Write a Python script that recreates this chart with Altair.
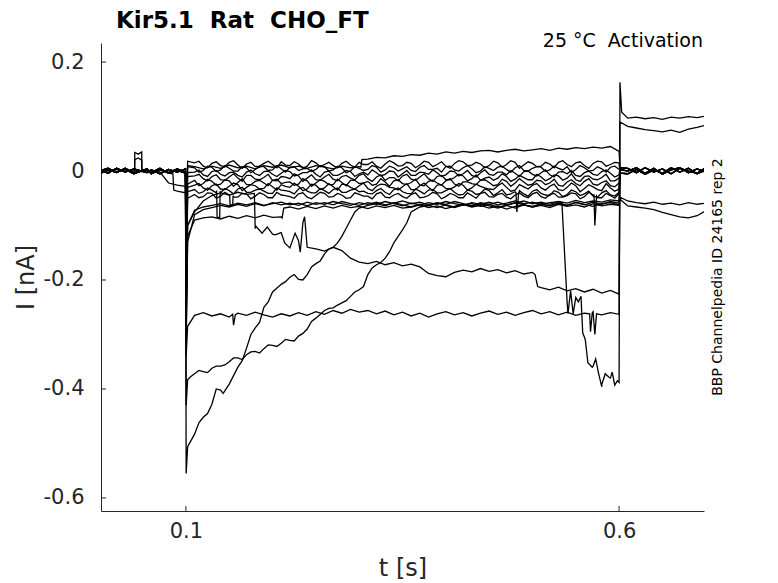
import altair as alt
import pandas as pd

FONT = "DejaVu Sans"
INK = "#262626"

X_TICKS = [0.1, 0.6]
Y_TICKS = [-0.6, -0.4, -0.2, 0, 0.2]

# sample times shared by every sweep
T_PRE = [0.0, 0.01, 0.02, 0.03, 0.04, 0.055, 0.06, 0.07, 0.08, 0.09, 0.0995]
T_ON = [0.1003, 0.102]
T_MAIN = [
    0.11, 0.12, 0.13, 0.14, 0.15, 0.16, 0.17, 0.18, 0.19, 0.20,
    0.21, 0.22, 0.23, 0.24, 0.25, 0.26, 0.27, 0.28, 0.29, 0.30,
    0.31, 0.32, 0.33, 0.34, 0.35, 0.36, 0.37, 0.38, 0.39, 0.40,
    0.41, 0.42, 0.43, 0.44, 0.45, 0.46, 0.47, 0.48, 0.49, 0.50,
    0.51, 0.52, 0.53, 0.54, 0.55, 0.56, 0.57, 0.58, 0.59, 0.60,
]
# extra in-between samples for the sweeps of the dense band near 0 nA
T_MID = [
    0.115, 0.125, 0.135, 0.145, 0.155, 0.165, 0.175, 0.185, 0.195, 0.205,
    0.215, 0.225, 0.235, 0.245, 0.255, 0.265, 0.275, 0.285, 0.295, 0.305,
    0.315, 0.325, 0.335, 0.345, 0.355, 0.365, 0.375, 0.385, 0.395, 0.405,
    0.415, 0.425, 0.435, 0.445, 0.455, 0.465, 0.475, 0.485, 0.495, 0.505,
    0.515, 0.525, 0.535, 0.545, 0.555, 0.565, 0.575, 0.585, 0.595,
]
T_POST = [0.601, 0.61, 0.62, 0.63, 0.64, 0.65, 0.66, 0.67, 0.68, 0.69, 0.70]

# holding current before the step (nA)
PRE_1 = [0.004, -0.004, 0.005, -0.002, 0.004, -0.003, 0.002, -0.005, 0.003, -0.002, 0.004]
PRE_2 = [-0.005, 0.002, -0.003, 0.005, -0.004, 0.003, -0.005, 0.002, -0.003, 0.004, -0.002]
PRE_3 = [0.000, 0.005, -0.002, 0.003, -0.005, 0.004, -0.003, 0.005, -0.004, 0.001, -0.004]
PRE_G1 = [0.001, -0.002, 0.003, -0.001, 0.002, -0.003, 0.002, -0.002, -0.022, -0.026, -0.028]
PRE_G2 = [-0.002, 0.002, -0.001, 0.003, -0.002, 0.001, -0.003, 0.002, -0.004, -0.037, -0.040]

# after the step
POST_Z1 = [0.006, 0.005, -0.003, 0.006, -0.002, 0.004, -0.005, 0.005, 0.000, -0.004, 0.006]
POST_Z2 = [-0.004, -0.005, 0.003, -0.006, 0.002, -0.004, 0.006, -0.002, 0.005, -0.005, 0.002]
POST_Z3 = [0.003, 0.000, 0.006, -0.004, 0.005, -0.006, 0.002, 0.006, -0.003, 0.004, -0.002]
POST_D = [0.163, 0.097, 0.099, 0.096, 0.098, 0.095, 0.099, 0.097, 0.100, 0.098, 0.101]
POST_C = [0.090, 0.082, 0.079, 0.076, 0.074, 0.072, 0.075, 0.071, 0.077, 0.080, 0.084]
POST_G1 = [-0.048, -0.055, -0.058, -0.060, -0.057, -0.061, -0.059, -0.062, -0.058, -0.061, -0.059]
POST_G2 = [-0.052, -0.064, -0.066, -0.068, -0.071, -0.076, -0.080, -0.084, -0.086, -0.082, -0.073]

# sweeps during the step, 0.11 .. 0.60 s
U_MAIN = [
    0.008, 0.004, 0.009, 0.005, 0.011, 0.006, 0.009, 0.004, 0.010, 0.007,
    0.011, 0.006, 0.009, 0.005, 0.010, 0.007, 0.004, 0.009, 0.006, 0.008,
    0.022, 0.025, 0.024, 0.028, 0.027, 0.030, 0.029, 0.033, 0.031, 0.035,
    0.033, 0.036, 0.034, 0.037, 0.038, 0.035, 0.038, 0.040, 0.037, 0.039,
    0.041, 0.038, 0.042, 0.040, 0.043, 0.041, 0.044, 0.042, 0.045, 0.036,
]
N1_MAIN = [
    0.015, 0.009, 0.014, 0.010, 0.016, 0.011, 0.013, 0.008, 0.014, 0.012,
    0.017, 0.010, 0.013, 0.009, 0.015, 0.012, 0.010, 0.014, 0.011, 0.016,
    0.012, 0.009, 0.013, 0.015, 0.010, 0.014, 0.011, 0.016, 0.012, 0.009,
    0.014, 0.017, 0.011, 0.013, 0.010, 0.015, 0.012, 0.016, 0.011, 0.014,
    0.009, 0.013, 0.016, 0.012, 0.015, 0.010, 0.014, 0.017, 0.012, 0.015,
]
N1_MID = [
    0.018, 0.006, 0.017, 0.008, 0.019, 0.005, 0.016, 0.009, 0.018, 0.006,
    0.011, 0.017, 0.005, 0.019, 0.008, 0.016, 0.006, 0.018, 0.007, 0.012,
    0.017, 0.005, 0.019, 0.009, 0.016, 0.006, 0.018, 0.008, 0.017, 0.005,
    0.019, 0.010, 0.016, 0.006, 0.018, 0.007, 0.019, 0.005, 0.017, 0.008,
    0.016, 0.006, 0.019, 0.008, 0.017, 0.005, 0.018, 0.009, 0.016,
]
N2_MAIN = [
    0.006, 0.001, 0.007, 0.002, 0.005, 0.000, 0.006, 0.003, 0.008, 0.002,
    0.004, 0.007, 0.001, 0.005, 0.003, 0.008, 0.002, 0.006, 0.000, 0.005,
    0.003, 0.007, 0.002, 0.006, 0.004, 0.001, 0.007, 0.003, 0.005, 0.008,
    0.002, 0.006, 0.004, 0.000, 0.005, 0.007, 0.003, 0.006, 0.001, 0.005,
    0.007, 0.002, 0.005, 0.008, 0.003, 0.006, 0.001, 0.004, 0.007, 0.003,
]
N2_MID = [
    -0.002, 0.009, -0.001, 0.010, 0.000, 0.008, -0.003, 0.009, 0.001, 0.010,
    -0.002, 0.008, 0.004, -0.001, 0.010, 0.000, 0.009, -0.003, 0.008, 0.001,
    0.010, -0.002, 0.009, 0.000, 0.008, -0.001, 0.010, 0.003, -0.002, 0.009,
    0.000, 0.010, -0.003, 0.008, 0.001, 0.009, -0.002, 0.010, 0.000, 0.008,
    -0.001, 0.009, 0.002, -0.003, 0.010, 0.000, 0.008, -0.002, 0.009,
]
N3_MAIN = [
    -0.002, -0.007, -0.001, -0.006, -0.003, -0.008, -0.002, -0.005, -0.001, -0.006,
    -0.004, -0.001, -0.007, -0.003, -0.006, -0.002, -0.008, -0.004, -0.001, -0.005,
    -0.007, -0.003, -0.006, -0.001, -0.005, -0.008, -0.002, -0.006, -0.003, -0.007,
    -0.001, -0.005, -0.008, -0.003, -0.006, -0.002, -0.007, -0.004, -0.001, -0.006,
    -0.003, -0.007, -0.002, -0.005, -0.008, -0.003, -0.006, -0.001, -0.004, -0.007,
]
N3_MID = [
    0.002, -0.010, 0.001, -0.009, -0.002, -0.011, 0.002, -0.008, 0.000, -0.010,
    0.001, -0.009, -0.003, 0.002, -0.011, 0.000, -0.008, 0.001, -0.010, -0.002,
    0.002, -0.009, 0.000, -0.011, 0.001, -0.008, -0.003, 0.002, -0.010, 0.000,
    -0.009, 0.001, -0.011, 0.002, -0.008, -0.002, 0.001, -0.010, 0.000, -0.009,
    0.002, -0.011, -0.001, 0.001, -0.010, 0.000, -0.008, 0.002, -0.011,
]
N4_MAIN = [
    -0.009, -0.014, -0.010, -0.016, -0.011, -0.013, -0.008, -0.015, -0.012, -0.017,
    -0.010, -0.014, -0.009, -0.013, -0.016, -0.011, -0.015, -0.010, -0.013, -0.008,
    -0.014, -0.011, -0.017, -0.012, -0.009, -0.015, -0.011, -0.014, -0.010, -0.016,
    -0.012, -0.009, -0.014, -0.017, -0.011, -0.013, -0.010, -0.015, -0.012, -0.016,
    -0.011, -0.014, -0.009, -0.013, -0.016, -0.010, -0.015, -0.012, -0.018, -0.013,
]
N4_MID = [
    -0.006, -0.018, -0.007, -0.017, -0.005, -0.019, -0.008, -0.016, -0.006, -0.018,
    -0.011, -0.005, -0.019, -0.007, -0.017, -0.006, -0.018, -0.008, -0.016, -0.005,
    -0.019, -0.007, -0.012, -0.018, -0.006, -0.017, -0.005, -0.019, -0.008, -0.016,
    -0.006, -0.018, -0.007, -0.013, -0.017, -0.005, -0.019, -0.008, -0.016, -0.006,
    -0.018, -0.007, -0.017, -0.005, -0.019, -0.009, -0.016, -0.006, -0.018,
]
N5_MAIN = [
    -0.017, -0.023, -0.019, -0.024, -0.018, -0.021, -0.025, -0.019, -0.022, -0.017,
    -0.023, -0.020, -0.024, -0.018, -0.022, -0.019, -0.025, -0.021, -0.017, -0.023,
    -0.019, -0.024, -0.020, -0.018, -0.023, -0.021, -0.026, -0.019, -0.022, -0.018,
    -0.024, -0.020, -0.023, -0.017, -0.021, -0.025, -0.019, -0.022, -0.020, -0.024,
    -0.018, -0.022, -0.026, -0.020, -0.023, -0.019, -0.024, -0.021, -0.027, -0.022,
]
N5_MID = [
    -0.027, -0.015, -0.026, -0.016, -0.028, -0.014, -0.025, -0.017, -0.027, -0.015,
    -0.021, -0.026, -0.014, -0.028, -0.016, -0.025, -0.015, -0.027, -0.017, -0.022,
    -0.026, -0.014, -0.028, -0.016, -0.025, -0.015, -0.027, -0.017, -0.026, -0.014,
    -0.028, -0.020, -0.025, -0.016, -0.027, -0.015, -0.028, -0.014, -0.026, -0.017,
    -0.025, -0.015, -0.028, -0.016, -0.027, -0.014, -0.026, -0.018, -0.029,
]
N6_MAIN = [
    -0.026, -0.031, -0.027, -0.033, -0.028, -0.025, -0.030, -0.027, -0.032, -0.029,
    -0.025, -0.030, -0.028, -0.033, -0.026, -0.031, -0.029, -0.024, -0.030, -0.027,
    -0.032, -0.028, -0.025, -0.031, -0.029, -0.034, -0.027, -0.030, -0.026, -0.032,
    -0.029, -0.026, -0.031, -0.028, -0.033, -0.027, -0.030, -0.035, -0.029, -0.026,
    -0.031, -0.028, -0.034, -0.030, -0.027, -0.032, -0.029, -0.036, -0.031, -0.033,
]
N6_MID = [
    -0.023, -0.035, -0.024, -0.034, -0.022, -0.036, -0.025, -0.033, -0.023, -0.035,
    -0.028, -0.022, -0.036, -0.024, -0.034, -0.023, -0.035, -0.025, -0.033, -0.022,
    -0.036, -0.024, -0.030, -0.035, -0.023, -0.034, -0.022, -0.036, -0.025, -0.033,
    -0.023, -0.035, -0.024, -0.031, -0.034, -0.022, -0.037, -0.025, -0.033, -0.023,
    -0.035, -0.024, -0.036, -0.022, -0.038, -0.025, -0.034, -0.023, -0.037,
]
N7_MAIN = [
    -0.034, -0.038, -0.035, -0.040, -0.036, -0.033, -0.039, -0.035, -0.037, -0.041,
    -0.035, -0.038, -0.033, -0.037, -0.040, -0.036, -0.034, -0.039, -0.035, -0.038,
    -0.041, -0.036, -0.039, -0.034, -0.038, -0.042, -0.037, -0.035, -0.040, -0.036,
    -0.039, -0.043, -0.037, -0.041, -0.036, -0.040, -0.044, -0.038, -0.042, -0.037,
    -0.041, -0.045, -0.039, -0.043, -0.038, -0.042, -0.046, -0.040, -0.044, -0.039,
]
N7_MID = [
    -0.041, -0.031, -0.040, -0.032, -0.042, -0.030, -0.039, -0.033, -0.041, -0.031,
    -0.036, -0.042, -0.030, -0.040, -0.032, -0.041, -0.031, -0.039, -0.033, -0.037,
    -0.042, -0.032, -0.043, -0.031, -0.041, -0.033, -0.042, -0.034, -0.040, -0.032,
    -0.044, -0.035, -0.043, -0.033, -0.045, -0.034, -0.042, -0.036, -0.046, -0.034,
    -0.044, -0.036, -0.047, -0.035, -0.045, -0.037, -0.048, -0.036, -0.046,
]
N8_MAIN = [
    -0.043, -0.047, -0.041, -0.046, -0.044, -0.048, -0.042, -0.046, -0.043, -0.049,
    -0.044, -0.047, -0.042, -0.048, -0.045, -0.041, -0.047, -0.044, -0.049, -0.043,
    -0.046, -0.042, -0.048, -0.044, -0.047, -0.043, -0.049, -0.045, -0.042, -0.047,
    -0.044, -0.049, -0.045, -0.041, -0.047, -0.043, -0.048, -0.044, -0.046, -0.042,
    -0.047, -0.043, -0.048, -0.045, -0.042, -0.047, -0.044, -0.049, -0.045, -0.041,
]
N8_MID = [
    -0.049, -0.040, -0.050, -0.039, -0.048, -0.041, -0.051, -0.040, -0.049, -0.039,
    -0.045, -0.050, -0.040, -0.051, -0.039, -0.048, -0.041, -0.050, -0.040, -0.046,
    -0.051, -0.039, -0.049, -0.041, -0.050, -0.040, -0.048, -0.039, -0.051, -0.041,
    -0.049, -0.040, -0.050, -0.039, -0.048, -0.041, -0.051, -0.040, -0.049, -0.039,
    -0.050, -0.041, -0.048, -0.040, -0.051, -0.039, -0.049, -0.041, -0.050,
]
E_MAIN = [
    -0.075, -0.055, -0.045, -0.040, -0.044, -0.039, -0.043, -0.106, -0.110, -0.116,
    -0.113, -0.141, -0.128, -0.140, -0.143, -0.147, -0.140, -0.146, -0.160, -0.167,
    -0.170, -0.166, -0.172, -0.168, -0.174, -0.171, -0.176, -0.188, -0.192, -0.194,
    -0.186, -0.182, -0.185, -0.179, -0.184, -0.181, -0.187, -0.183, -0.189, -0.186,
    -0.214, -0.218, -0.213, -0.220, -0.216, -0.222, -0.217, -0.224, -0.219, -0.226,
]
G1_MAIN = [
    -0.072, -0.066, -0.063, -0.060, -0.064, -0.059, -0.062, -0.058, -0.063, -0.060,
    -0.057, -0.062, -0.059, -0.064, -0.058, -0.061, -0.056, -0.060, -0.063, -0.058,
    -0.061, -0.057, -0.062, -0.059, -0.055, -0.060, -0.057, -0.062, -0.058, -0.061,
    -0.056, -0.060, -0.064, -0.058, -0.061, -0.057, -0.062, -0.059, -0.055, -0.060,
    -0.057, -0.061, -0.056, -0.059, -0.054, -0.058, -0.055, -0.057, -0.053, -0.055,
]
G2_MAIN = [
    -0.090, -0.086, -0.084, -0.088, -0.083, -0.087, -0.082, -0.086, -0.081, -0.085,
    -0.084, -0.066, -0.070, -0.065, -0.069, -0.064, -0.068, -0.063, -0.067, -0.065,
    -0.069, -0.064, -0.067, -0.063, -0.068, -0.066, -0.062, -0.067, -0.064, -0.069,
    -0.065, -0.061, -0.066, -0.063, -0.068, -0.064, -0.070, -0.065, -0.062, -0.066,
    -0.063, -0.067, -0.061, -0.065, -0.062, -0.066, -0.060, -0.064, -0.061, -0.063,
]
D_MAIN = [
    -0.080, -0.071, -0.067, -0.063, -0.066, -0.061, -0.065, -0.060, -0.064, -0.058,
    -0.062, -0.059, -0.063, -0.057, -0.061, -0.058, -0.062, -0.056, -0.060, -0.063,
    -0.058, -0.061, -0.056, -0.060, -0.064, -0.059, -0.062, -0.058, -0.061, -0.056,
    -0.060, -0.063, -0.058, -0.061, -0.057, -0.062, -0.059, -0.055, -0.060, -0.057,
    -0.061, -0.058, -0.056, -0.240, -0.232, -0.305, -0.358, -0.392, -0.380, -0.388,
]
C_MAIN = [
    -0.265, -0.260, -0.266, -0.262, -0.268, -0.261, -0.265, -0.259, -0.264, -0.268,
    -0.262, -0.266, -0.260, -0.265, -0.258, -0.263, -0.256, -0.261, -0.254, -0.259,
    -0.256, -0.262, -0.257, -0.264, -0.259, -0.266, -0.261, -0.268, -0.262, -0.258,
    -0.264, -0.260, -0.266, -0.261, -0.257, -0.263, -0.259, -0.265, -0.260, -0.256,
    -0.262, -0.258, -0.264, -0.259, -0.265, -0.261, -0.258, -0.264, -0.260, -0.263,
]
B_MAIN = [
    -0.372, -0.368, -0.362, -0.358, -0.350, -0.343, -0.337, -0.331, -0.326, -0.320,
    -0.316, -0.311, -0.303, -0.290, -0.270, -0.256, -0.251, -0.242, -0.230, -0.218,
    -0.190, -0.172, -0.160, -0.132, -0.108, -0.075, -0.066, -0.063, -0.067, -0.062,
    -0.066, -0.061, -0.065, -0.060, -0.064, -0.068, -0.063, -0.058, -0.062, -0.066,
    -0.061, -0.064, -0.059, -0.063, -0.057, -0.061, -0.065, -0.060, -0.058, -0.062,
]
A_MAIN = [
    -0.483, -0.452, -0.428, -0.402, -0.391, -0.360, -0.325, -0.288, -0.250, -0.222,
    -0.208, -0.195, -0.199, -0.190, -0.170, -0.152, -0.140, -0.120, -0.090, -0.068,
    -0.063, -0.060, -0.064, -0.058, -0.062, -0.066, -0.061, -0.064, -0.059, -0.063,
    -0.067, -0.062, -0.060, -0.065, -0.061, -0.066, -0.063, -0.068, -0.062, -0.065,
    -0.060, -0.064, -0.059, -0.063, -0.058, -0.062, -0.057, -0.061, -0.056, -0.059,
]

# capacitive transient at step onset: (peak, first settled sample)
ON_VALUES = {
    "U": [-0.12, 0.010], "N1": [-0.08, 0.018], "N2": [-0.10, 0.008],
    "N3": [-0.14, -0.003], "N4": [-0.16, -0.010], "N5": [-0.18, -0.024],
    "N6": [-0.20, -0.030], "N7": [-0.22, -0.038], "N8": [-0.24, -0.050],
    "E": [-0.26, -0.100], "G1": [-0.28, -0.100], "G2": [-0.30, -0.120],
    "D": [-0.32, -0.130], "C": [-0.34, -0.285], "B": [-0.43, -0.383],
    "A": [-0.555, -0.506],
}

# brief events between the regular samples: (t, I)
U_EVENTS = [(0.302, 0.007), (0.303, 0.021)]
N1_EVENTS = [(0.0408, 0.002), (0.041, 0.034), (0.045, 0.031), (0.049, 0.035), (0.0492, 0.001)]
N2_EVENTS = [(0.0408, -0.002), (0.041, 0.021), (0.045, 0.024), (0.049, 0.020), (0.0492, -0.001)]
N7_EVENTS = [(0.1355, -0.036), (0.136, -0.085), (0.139, -0.085), (0.1395, -0.037),
             (0.481, -0.040), (0.482, -0.075), (0.484, -0.042)]
N8_EVENTS = [(0.1505, -0.044), (0.151, -0.062), (0.154, -0.062), (0.1545, -0.045),
             (0.571, -0.044), (0.572, -0.100), (0.574, -0.046)]
E_EVENTS = [(0.179, -0.041), (0.180, -0.100), (0.188, -0.114), (0.194, -0.103),
            (0.203, -0.117), (0.214, -0.132), (0.226, -0.114), (0.232, -0.149),
            (0.235, -0.095), (0.237, -0.084), (0.503, -0.190), (0.506, -0.212)]
G2_EVENTS = [(0.085, -0.005), (0.086, -0.035), (0.211, -0.086), (0.213, -0.068)]
D_EVENTS = [(0.534, -0.058), (0.541, -0.262), (0.544, -0.220), (0.547, -0.262),
            (0.553, -0.240), (0.556, -0.230), (0.558, -0.297), (0.561, -0.310),
            (0.564, -0.352), (0.569, -0.360), (0.573, -0.345), (0.576, -0.369),
            (0.580, -0.396), (0.584, -0.372), (0.588, -0.378), (0.592, -0.369),
            (0.595, -0.393), (0.598, -0.385), (0.603, 0.108)]
C_EVENTS = [(0.154, -0.263), (0.155, -0.283), (0.157, -0.264),
            (0.566, -0.262), (0.567, -0.295), (0.569, -0.260), (0.572, -0.300), (0.574, -0.262)]
B_EVENTS = [(0.105, -0.378), (0.115, -0.366), (0.125, -0.370), (0.135, -0.358),
            (0.145, -0.356), (0.155, -0.343), (0.165, -0.346), (0.175, -0.332),
            (0.185, -0.334), (0.195, -0.319), (0.205, -0.322), (0.215, -0.309),
            (0.225, -0.312), (0.235, -0.298), (0.245, -0.276), (0.265, -0.252),
            (0.275, -0.246), (0.285, -0.238), (0.295, -0.222), (0.305, -0.212),
            (0.315, -0.178), (0.325, -0.168), (0.335, -0.148), (0.345, -0.120),
            (0.355, -0.095)]
A_EVENTS = [(0.115, -0.462), (0.125, -0.445), (0.135, -0.400), (0.143, -0.408),
            (0.165, -0.348), (0.175, -0.300), (0.185, -0.278), (0.195, -0.240),
            (0.215, -0.203), (0.225, -0.190), (0.235, -0.200), (0.245, -0.176),
            (0.255, -0.165), (0.265, -0.143), (0.275, -0.132), (0.285, -0.105),
            (0.295, -0.075)]

# name: (pre, main, in-between, post, events)
SWEEPS = {
    "U": (PRE_1, U_MAIN, [], POST_Z1, U_EVENTS),
    "N1": (PRE_2, N1_MAIN, N1_MID, POST_Z2, N1_EVENTS),
    "N2": (PRE_3, N2_MAIN, N2_MID, POST_Z3, N2_EVENTS),
    "N3": (PRE_1, N3_MAIN, N3_MID, POST_Z1, []),
    "N4": (PRE_2, N4_MAIN, N4_MID, POST_Z2, []),
    "N5": (PRE_3, N5_MAIN, N5_MID, POST_Z3, []),
    "N6": (PRE_1, N6_MAIN, N6_MID, POST_Z1, []),
    "N7": (PRE_2, N7_MAIN, N7_MID, POST_Z2, N7_EVENTS),
    "N8": (PRE_3, N8_MAIN, N8_MID, POST_Z3, N8_EVENTS),
    "E": (PRE_1, E_MAIN, [], POST_Z1, E_EVENTS),
    "G1": (PRE_G1, G1_MAIN, [], POST_G1, []),
    "G2": (PRE_G2, G2_MAIN, [], POST_G2, G2_EVENTS),
    "D": (PRE_2, D_MAIN, [], POST_D, D_EVENTS),
    "C": (PRE_3, C_MAIN, [], POST_C, C_EVENTS),
    "B": (PRE_1, B_MAIN, [], POST_Z3, B_EVENTS),
    "A": (PRE_2, A_MAIN, [], POST_Z2, A_EVENTS),
}

rows = []
for name, (pre, main, mid, post, events) in SWEEPS.items():
    assert len(pre) == len(T_PRE) and len(main) == len(T_MAIN) and len(post) == len(T_POST), name
    assert not mid or len(mid) == len(T_MID), name
    pts = (list(zip(T_PRE, pre)) + list(zip(T_ON, ON_VALUES[name]))
           + list(zip(T_MAIN, main)) + list(zip(T_MID, mid))
           + list(zip(T_POST, post)) + events)
    for t, i in sorted(pts):
        rows.append({"sweep": name, "t": t, "i": i})
df = pd.DataFrame(rows)

W, H = 603, 468
x_scale = alt.Scale(domain=[0.002, 0.698], nice=False, zero=False)
y_scale = alt.Scale(domain=[-0.624, 0.235], nice=False, zero=False)
x_axis = alt.Axis(
    values=X_TICKS, labelExpr="'' + datum.value", ticks=False, tickSize=0,
    grid=False, labelPadding=9, labelFontSize=21, title="t [s]",
    titleFontSize=24, titleFontWeight="normal", titleX=W / 2, titleY=64,
    titleBaseline="alphabetic")
y_axis = alt.Axis(
    values=Y_TICKS, labelExpr="'' + datum.value", ticks=False, tickSize=0,
    grid=False, labelPadding=17, labelFontSize=21, title="I [nA]",
    titleFontSize=24, titleFontWeight="normal", titleX=-68, titleY=H / 2,
    titleAngle=270, titleBaseline="alphabetic", titleAlign="center")

traces = alt.Chart(df).mark_line(color="black", strokeWidth=1.3, clip=True).encode(
    x=alt.X("t:Q", scale=x_scale, axis=x_axis),
    y=alt.Y("i:Q", scale=y_scale, axis=y_axis),
    detail="sweep:N",
    order="t:Q",
)

# MATLAB-style inward ticks
x_ticks = alt.Chart(pd.DataFrame({"t": X_TICKS})).mark_rule(color=INK, strokeWidth=1).encode(
    x=alt.X("t:Q", scale=x_scale, axis=x_axis), y=alt.value(H), y2=alt.value(H - 5))
y_ticks = alt.Chart(pd.DataFrame({"i": Y_TICKS})).mark_rule(color=INK, strokeWidth=1).encode(
    y=alt.Y("i:Q", scale=y_scale, axis=y_axis), x=alt.value(0), x2=alt.value(5))

one = pd.DataFrame({"k": [0]})
heading = alt.Chart(one).mark_text(
    text="Kir5.1\u00a0 Rat\u00a0 CHO_FT", font=FONT, fontSize=23, fontWeight="bold",
    color="black", align="left", baseline="alphabetic",
).encode(x=alt.value(15), y=alt.value(-15))
condition = alt.Chart(one).mark_text(
    text="25 °C\u00a0 Activation", font=FONT, fontSize=19, color="black",
    align="right", baseline="alphabetic",
).encode(x=alt.value(W - 1), y=alt.value(4))
source = alt.Chart(one).mark_text(
    text="BBP Channelpedia ID 24165 rep 2", font=FONT, fontSize=14, color="black",
    angle=270, align="center", baseline="alphabetic",
).encode(x=alt.value(621), y=alt.value(H / 2))

chart = (
    alt.layer(traces, x_ticks, y_ticks, heading, condition, source)
    .properties(
        width=W, height=H,
        autosize=alt.AutoSizeParams(type="none"),
        padding={"left": 93, "top": 35, "right": 60, "bottom": 72},
    )
    .configure_view(stroke=None)
    .configure_axis(labelFont=FONT, titleFont=FONT, labelColor=INK, titleColor=INK,
                    domainColor=INK, domainWidth=1)
)

chart.save("out.html", embed_options={"renderer": "svg", "actions": False})
